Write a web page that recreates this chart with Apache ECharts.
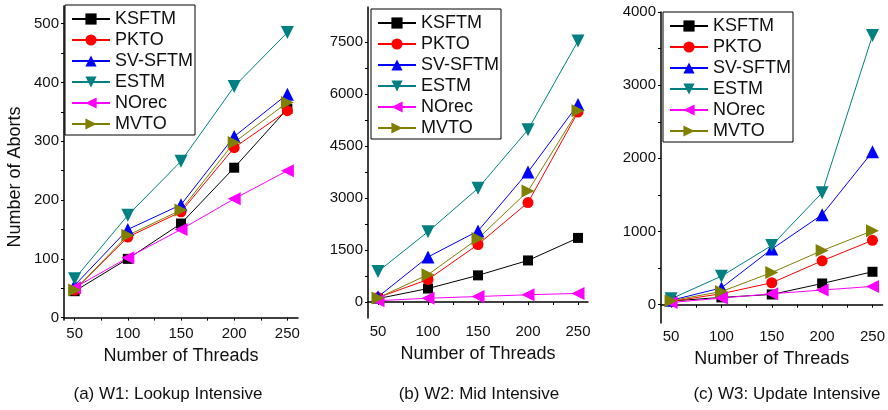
<!DOCTYPE html>
<html>
<head>
<meta charset="utf-8">
<script src="https://cdn.jsdelivr.net/npm/echarts@6/dist/echarts.min.js"></script>
<style>html,body{margin:0;padding:0;background:#fff;}#c{width:888px;height:410px;}</style>
</head>
<body>
<div id="c"></div>
<script>
const threads = [50, 100, 150, 200, 250];
const seriesNames = ['KSFTM', 'PKTO', 'SV-SFTM', 'ESTM', 'NOrec', 'MVTO'];

// (a) W1: Lookup Intensive
const w1_ksftm = [45, 100, 160, 255, 355];
const w1_pkto = [47, 137, 180, 289, 352];
const w1_svsftm = [55, 150, 192, 308, 380];
const w1_estm = [66, 174, 266, 393, 485];
const w1_norec = [51, 102, 150, 202, 250];
const w1_mvto = [47, 140, 183, 298, 366];

// (b) W2: Mid Intensive
const w2_ksftm = [100, 390, 770, 1200, 1850];
const w2_pkto = [130, 650, 1660, 2870, 5480];
const w2_svsftm = [150, 1300, 2050, 3750, 5700];
const w2_estm = [880, 2030, 3280, 4970, 7530];
const w2_norec = [40, 110, 160, 210, 250];
const w2_mvto = [120, 790, 1830, 3200, 5520];

// (c) W3: Update Intensive
const w3_ksftm = [50, 100, 140, 290, 450];
const w3_pkto = [45, 150, 300, 600, 880];
const w3_svsftm = [60, 230, 760, 1230, 2090];
const w3_estm = [80, 390, 810, 1530, 3680];
const w3_norec = [30, 90, 150, 200, 250];
const w3_mvto = [55, 180, 440, 740, 1010];

const xTickLabels = [50, 100, 150, 200, 250];
const xMinorTicks = [75, 125, 175, 225];
const w1_yTicks = [0, 100, 200, 300, 400, 500];
const w2_yTicks = [0, 1500, 3000, 4500, 6000, 7500];
const w3_yTicks = [0, 1000, 2000, 3000, 4000];

const captions = ['(a) W1: Lookup Intensive', '(b) W2: Mid Intensive', '(c) W3: Update Intensive'];
const xAxisTitle = 'Number of Threads';
const yAxisTitle = 'Number of Aborts';

const FONT = '"Liberation Sans", Arial, Helvetica, sans-serif';
const colors = ['#000000', '#ff0000', '#0000ff', '#008080', '#ff00ff', '#808000'];
const symbols = ['rect', 'circle', 'triangle', 'triangle', 'triangle', 'triangle'];
const symbolRot = [0, 0, 0, 180, 90, -90];
const symbolSizes = [10, 11, 13, 13, 13, 13];

const panels = [
  { data: [w1_ksftm, w1_pkto, w1_svsftm, w1_estm, w1_norec, w1_mvto], yTicks: w1_yTicks,
    grid: { left: 64, top: 6, width: 234, height: 314 }, yMin: -4, yMax: 530,
    legend: { left: 65, top: 5 }, capX: 163 },
  { data: [w2_ksftm, w2_pkto, w2_svsftm, w2_estm, w2_norec, w2_mvto], yTicks: w2_yTicks,
    grid: { left: 368, top: 7, width: 220, height: 311 }, yMin: -460, yMax: 8510,
    legend: { left: 371, top: 9 }, capX: 474 },
  { data: [w3_ksftm, w3_pkto, w3_svsftm, w3_estm, w3_norec, w3_mvto], yTicks: w3_yTicks,
    grid: { left: 661, top: 12, width: 226, height: 311 }, yMin: -250, yMax: 4000,
    legend: { left: 663, top: 12 }, capX: 782 }
];

function midpoints(arr) {
  const out = [];
  for (let i = 0; i < arr.length - 1; i++) out.push((arr[i] + arr[i + 1]) / 2);
  return out;
}

const option = {
  animation: false,
  backgroundColor: '#fff',
  textStyle: { fontFamily: FONT },
  grid: [], xAxis: [], yAxis: [], series: [], legend: [], title: [],
  graphic: [{
    type: 'text', x: 15, y: 177, rotation: Math.PI / 2,
    style: { text: yAxisTitle, font: '18px ' + FONT, fill: '#111', textAlign: 'center', textVerticalAlign: 'middle' }
  }]
};

panels.forEach((p, pi) => {
  option.grid.push(Object.assign({ containLabel: false }, p.grid));
  option.xAxis.push({
    type: 'value', gridIndex: pi, min: 40, max: 260,
    name: xAxisTitle, nameLocation: 'middle', nameGap: 27,
    nameTextStyle: { fontSize: 18, color: '#111', fontFamily: FONT },
    axisLine: { show: true, lineStyle: { color: '#000', width: 1.5 } },
    axisTick: { show: true, length: 3, customValues: xTickLabels.concat(xMinorTicks), lineStyle: { color: '#000' } },
    axisLabel: { customValues: xTickLabels, fontSize: 15, color: '#111', margin: 6, fontFamily: FONT,
                 formatter: v => String(v) },
    splitLine: { show: false }
  });
  option.yAxis.push({
    type: 'value', gridIndex: pi, min: p.yMin, max: p.yMax,
    axisLine: { show: true, lineStyle: { color: '#000', width: 1.5 } },
    axisTick: { show: true, length: 3, customValues: p.yTicks.concat(midpoints(p.yTicks)), lineStyle: { color: '#000' } },
    axisLabel: { customValues: p.yTicks, fontSize: 15, color: '#111', margin: 5, fontFamily: FONT,
                 formatter: v => String(v) },
    splitLine: { show: false }
  });
  seriesNames.forEach((name, si) => {
    option.series.push({
      type: 'line', name: name, xAxisIndex: pi, yAxisIndex: pi,
      data: threads.map((t, k) => [t, p.data[si][k]]),
      symbol: symbols[si], symbolSize: symbolSizes[si], symbolRotate: symbolRot[si],
      showAllSymbol: true,
      lineStyle: { color: colors[si], width: 1 },
      itemStyle: { color: colors[si], borderWidth: 0 },
      emphasis: { disabled: true }
    });
  });
  option.legend.push({
    data: seriesNames, orient: 'vertical', left: p.legend.left, top: p.legend.top,
    itemWidth: 38, itemHeight: 14, itemGap: 3,
    padding: [5, 2, 2, 6],
    borderColor: '#000', borderWidth: 1, backgroundColor: '#fff',
    textStyle: { fontSize: 18, color: '#111', lineHeight: 18, fontFamily: FONT },
    selectedMode: false
  });
  option.title.push({
    text: captions[pi], left: p.capX, top: 381, textAlign: 'center',
    textStyle: { fontSize: 17, fontWeight: 'normal', color: '#111', fontFamily: FONT }
  });
});

const chart = echarts.init(document.getElementById('c'), null, { renderer: 'canvas' });
chart.setOption(option);
</script>
</body>
</html>
